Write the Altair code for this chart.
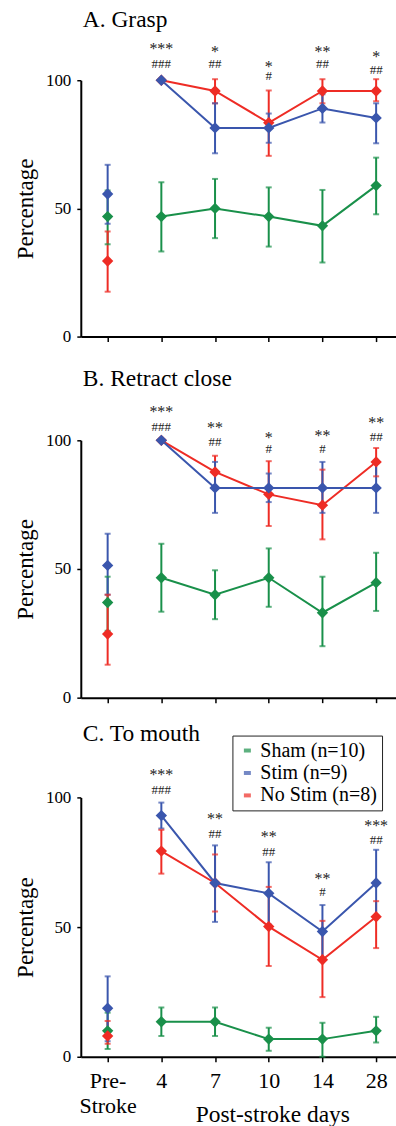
import altair as alt
import pandas as pd

FONT = "Liberation Serif, Times New Roman, DejaVu Serif, serif"

NB = "\u00a0"
x_labels = ["Pre-" + NB * 4 + "|Stroke", "4", "7", "10", "14", "28"]
groups = ["Sham (n=10)", "Stim (n=9)", "No Stim (n=8)"]
colors = ["#19904a", "#3a56ad", "#ee2c25"]

# ---- Panel A: Grasp ----
a_sham = [46.8, 46.8, 50.0, 46.8, 43.2, 58.9]
a_sham_lo = [36.0, 33.2, 38.4, 35.1, 28.9, 47.7]
a_sham_hi = [57.0, 60.2, 61.5, 58.2, 57.2, 69.8]
a_stim = [55.6, 100, 81.4, 81.4, 89.0, 85.3]
a_stim_lo = [44.0, 100, 71.5, 75.6, 83.5, 75.4]
a_stim_hi = [67.0, 100, 91.0, 87.0, 94.5, 91.0]
a_nostim = [29.5, 100, 95.8, 83.4, 95.8, 95.8]
a_nostim_lo = [17.5, 100, 91.0, 70.5, 91.0, 91.8]
a_nostim_hi = [41.0, 100, 100.4, 96.0, 100.4, 100.4]
a_stars = ["***", "*", "*", "**", "*"]
a_star_y = [113.6, 112.3, 106.7, 112.3, 110.6]
a_hash = ["###", "##", "#", "##", "##"]
a_hash_y = [106.5, 106.5, 102.0, 106.5, 104.3]

# ---- Panel B: Retract close ----
b_sham = [37.0, 46.6, 40.0, 46.6, 33.0, 44.7]
b_sham_lo = [26.0, 33.4, 30.5, 35.3, 20.0, 33.7]
b_sham_hi = [47.0, 59.8, 49.5, 58.0, 47.0, 56.3]
b_stim = [51.4, 100, 81.5, 81.5, 81.5, 81.5]
b_stim_lo = [40.0, 100, 71.8, 76.0, 71.8, 71.8]
b_stim_hi = [63.7, 100, 91.6, 87.1, 91.6, 91.0]
b_nostim = [24.7, 100, 87.7, 79.0, 74.8, 91.6]
b_nostim_lo = [12.8, 100, 81.0, 66.7, 61.5, 86.0]
b_nostim_hi = [40.0, 100, 94.0, 91.9, 88.6, 97.0]
b_stars = ["***", "**", "*", "**", "**"]
b_star_y = [112.5, 106.3, 102.2, 103.1, 108.0]
b_hash = ["###", "##", "#", "#", "##"]
b_hash_y = [105.4, 99.6, 96.8, 96.8, 101.6]

# ---- Panel C: To mouth ----
c_sham = [10.0, 13.5, 13.5, 6.8, 6.8, 10.0]
c_sham_lo = [3.0, 8.0, 8.0, 2.3, 0.0, 5.5]
c_sham_hi = [17.0, 19.0, 19.0, 11.2, 13.1, 15.4]
c_stim = [18.7, 93.0, 67.0, 63.0, 48.3, 67.0]
c_stim_lo = [6.0, 88.0, 52.0, 51.0, 38.0, 54.0]
c_stim_hi = [31.0, 98.0, 81.5, 75.0, 58.5, 79.8]
c_nostim = [8.0, 79.3, 67.0, 50.2, 37.4, 54.0]
c_nostim_lo = [5.0, 70.6, 56.0, 35.0, 23.0, 41.9]
c_nostim_hi = [13.8, 87.5, 78.0, 65.5, 52.4, 60.0]
c_stars = ["***", "**", "**", "**", "***"]
c_star_y = [110.0, 93.1, 85.9, 69.7, 90.4]
c_hash = ["###", "##", "##", "#", "##"]
c_hash_y = [103.2, 86.2, 79.3, 63.6, 83.9]

PAD_LEFT = 14
PAD_TOP = 7

color_scale = alt.Scale(domain=groups, range=colors)
legend_c = alt.Legend(
    orient="none", legendX=152, legendY=-62, title=None,
    symbolType="stroke", symbolSize=49, symbolStrokeWidth=4,
    labelFont=FONT, labelFontSize=20, labelColor="black", labelOffset=3,
    strokeColor="#222", fillColor="white", padding=5, rowPadding=2.5,
)

label_expr = "split([" + ",".join("'" + s + "'" for s in x_labels) + "][datum.value], '|')"


def panel(title, series, stars, star_y, hashes, hash_y, bottom, height, title_off):
    rows = []
    # draw order: sham, no stim, stim (stim on top)
    for gi in [0, 2, 1]:
        vals, lo, hi = series[gi]
        for i in range(len(x_labels)):
            rows.append({"idx": i, "group": groups[gi], "v": vals[i],
                         "lo": lo[i], "hi": hi[i]})
    df = pd.DataFrame(rows)
    ann_s = pd.DataFrame({"idx": [1, 2, 3, 4, 5], "t": stars, "y": star_y})
    ann_h = pd.DataFrame({"idx": [1, 2, 3, 4, 5], "t": hashes, "y": hash_y})

    if bottom:
        xaxis = alt.Axis(values=[0, 1, 2, 3, 4, 5], labelExpr=label_expr,
                         labelFont=FONT, labelFontSize=22, labelLineHeight=25,
                         labelColor="black", labelPadding=9, tickSize=5,
                         title="Post-stroke days", titleFont=FONT, titleFontSize=23.5,
                         titleFontWeight="normal", titleColor="black",
                         titleX=192, titleY=65, titleBaseline="alphabetic",
                         titleAlign="center")
        col = alt.Color("group:N", scale=color_scale, legend=legend_c)
    else:
        xaxis = alt.Axis(values=[0, 1, 2, 3, 4, 5], labels=False, tickSize=5, title=None)
        col = alt.Color("group:N", scale=color_scale, legend=None)

    x = alt.X("idx:Q", scale=alt.Scale(domain=[-0.5, 5.37], nice=False, zero=False),
              axis=xaxis)
    yaxis = alt.Axis(values=[0, 50, 100], labelFont=FONT, labelFontSize=17,
                     labelColor="black", labelPadding=6, tickSize=4,
                     title="Percentage", titleFont=FONT, titleFontSize=23,
                     titleFontWeight="normal", titleColor="black", titlePadding=8)
    y = alt.Y("v:Q", scale=alt.Scale(domain=[0, 100], nice=False), axis=yaxis)

    base = alt.Chart(df)
    rules = base.mark_rule(strokeWidth=2).encode(x=x, y=alt.Y("lo:Q"), y2="hi:Q", color=col)
    cap_lo = base.mark_tick(orient="horizontal", size=6, thickness=2).encode(
        x=x, y=alt.Y("lo:Q"), color=col)
    cap_hi = base.mark_tick(orient="horizontal", size=6, thickness=2).encode(
        x=x, y=alt.Y("hi:Q"), color=col)
    lines = base.mark_line(strokeWidth=2).encode(
        x=x, y=y, color=col, detail="group:N").transform_filter("datum.idx > 0")
    pts = base.mark_point(shape="diamond", filled=True, size=130, opacity=1).encode(
        x=x, y=y, color=col)
    t_s = alt.Chart(ann_s).mark_text(font=FONT, fontSize=16, color="#222",
                                     baseline="alphabetic", dy=8.5, clip=False).encode(
        x=alt.X("idx:Q"), y=alt.Y("y:Q"), text="t:N")
    t_h = alt.Chart(ann_h).mark_text(font=FONT, fontSize=13, color="#222",
                                     baseline="alphabetic", dy=4.5, clip=False).encode(
        x=alt.X("idx:Q"), y=alt.Y("y:Q"), text="t:N")
    ttl = alt.Chart(pd.DataFrame({"t": [title]})).mark_text(
        font=FONT, fontSize=23.5, color="black", align="left", baseline="alphabetic",
        clip=False).encode(x=alt.value(2), y=alt.value(-title_off), text="t:N")

    return alt.layer(rules, cap_lo, cap_hi, lines, pts, t_s, t_h, ttl).properties(
        width=316, height=height)


pa = panel("A. Grasp",
           [(a_sham, a_sham_lo, a_sham_hi), (a_stim, a_stim_lo, a_stim_hi),
            (a_nostim, a_nostim_lo, a_nostim_hi)],
           a_stars, a_star_y, a_hash, a_hash_y, False, 257, 53)
pb = panel("B. Retract close",
           [(b_sham, b_sham_lo, b_sham_hi), (b_stim, b_stim_lo, b_stim_hi),
            (b_nostim, b_nostim_lo, b_nostim_hi)],
           b_stars, b_star_y, b_hash, b_hash_y, False, 258, 54)
pc = panel("C. To mouth",
           [(c_sham, c_sham_lo, c_sham_hi), (c_stim, c_stim_lo, c_stim_hi),
            (c_nostim, c_nostim_lo, c_nostim_hi)],
           c_stars, c_star_y, c_hash, c_hash_y, True, 260, 57)

top = alt.vconcat(pa, pb, spacing=23).resolve_legend(color="independent")
chart = alt.vconcat(top, pc, spacing=16).resolve_legend(color="independent").properties(
    padding={"left": PAD_LEFT, "top": PAD_TOP, "right": 0, "bottom": 0},
    background="white",
).configure_view(stroke=None).configure_axis(
    grid=False, domainColor="black", domainWidth=2, tickColor="black", tickWidth=1.5,
)

chart.save("out.html", embed_options={"renderer": "svg", "actions": False})
